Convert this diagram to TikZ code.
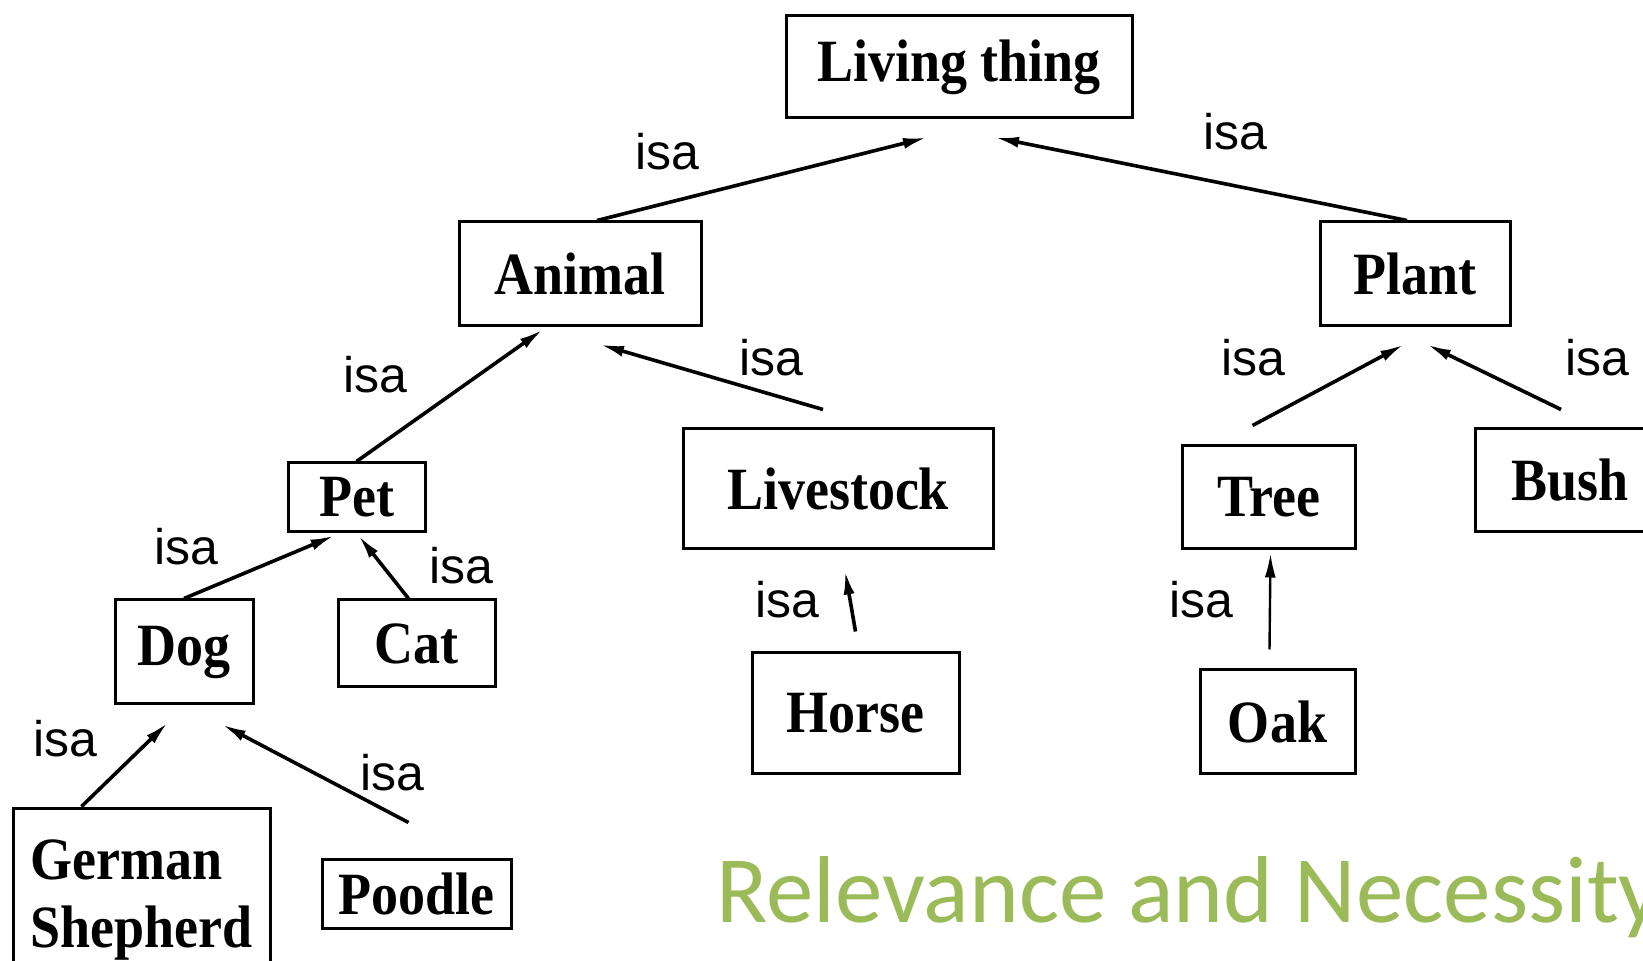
\documentclass[tikz,border=0pt]{standalone}
\usepackage{fontspec}
\usepackage{graphicx}
\setmainfont{Liberation Serif}
\newfontfamily\isafont{Liberation Sans}
\newfontfamily\titlefont{Carlito}
\usetikzlibrary{arrows.meta}
\definecolor{titlegreen}{HTML}{9BBB59}
\newcommand{\cls}[1]{\scalebox{0.9}[1]{#1}}
\tikzset{
  cbox/.style={draw, line width=1.5pt, inner sep=0pt, align=center,
    font=\bfseries\fontsize{30}{34}\selectfont},
  isa/.style={line width=1.8pt, -{Latex[length=12pt,width=5.5pt]}},
  isalbl/.style={font=\isafont\fontsize{25}{28}\selectfont, inner sep=0pt},
}
\begin{document}
\begin{tikzpicture}[x=0.5pt, y=-0.5pt]
\useasboundingbox (0,0) rectangle (1643,961);
\clip (0,0) rectangle (1643,961);
\fill[white] (0,0) rectangle (1643,961);

% concept boxes
\node[cbox, minimum width=173pt, minimum height=51pt] (living) at (959,67) {\cls{Living thing}};
\node[cbox, minimum width=121pt, minimum height=52pt] (animal) at (580,274) {\cls{Animal}};
\node[cbox, minimum width=95pt, minimum height=52pt] (plant) at (1415,274) {\cls{Plant}};
\node[cbox, minimum width=68.5pt, minimum height=34.5pt] (pet) at (356.5,497.5) {\cls{Pet}};
\node[cbox, minimum width=155pt, minimum height=60pt] (livestock) at (838,489) {\cls{Livestock}};
\node[cbox, minimum width=86.5pt, minimum height=51.5pt] (tree) at (1268.5,497.5) {\cls{Tree}};
\node[cbox, minimum width=95pt, minimum height=51.5pt] (bush) at (1570,480.5) {\cls{Bush}};
\node[cbox, minimum width=69pt, minimum height=52pt] (dog) at (184,652) {\cls{Dog}};
\node[cbox, minimum width=78.5pt, minimum height=43.5pt] (cat) at (416.5,643.5) {\cls{Cat}};
\node[cbox, minimum width=103.5pt, minimum height=60pt] (horse) at (855.5,713) {\cls{Horse}};
\node[cbox, minimum width=77.5pt, minimum height=51.5pt] (oak) at (1277.5,721.5) {\cls{Oak}};
\node[cbox, minimum width=128.5pt, minimum height=92pt] (gs) at (141.5,900) {\cls{\begin{tabular}{@{}l@{}}German\\Shepherd\end{tabular}}};
\node[cbox, minimum width=94.5pt, minimum height=34.5pt] (poodle) at (416.5,893.5) {\cls{Poodle}};

% isa links, child to parent
\draw[isa] ([xshift=8.5pt]animal.north) -- ([xshift=-16pt,yshift=-9pt]living.south);
\draw[isa] ([xshift=-4pt]plant.north) -- ([xshift=18pt,yshift=-9pt]living.south);
\draw[isa] (pet.north) -- ([xshift=-18.5pt,yshift=-1pt]animal.south);
\draw[isa] ([xshift=-7.5pt,yshift=9pt]livestock.north) -- ([xshift=10pt,yshift=-8.5pt]animal.south);
\draw[isa] ([xshift=-8pt,yshift=9.5pt]tree.north) -- ([xshift=-5.5pt,yshift=-8.5pt]plant.south);
\draw[isa] ([xshift=-4.5pt,yshift=9pt]bush.north) -- ([xshift=6pt,yshift=-8.5pt]plant.south);
\draw[isa] (dog.north) -- ([xshift=-11pt,yshift=-1pt]pet.south);
\draw[isa] ([xshift=-4pt]cat.north) -- ([xshift=1pt,yshift=-1pt]pet.south);
\draw[isa] ([yshift=10pt]horse.north) -- ([xshift=3.5pt,yshift=-10pt]livestock.south);
\draw[isa, line width=1.2pt] ([xshift=-4pt,yshift=9.5pt]oak.north) -- ([xshift=1pt,yshift=-1.5pt]tree.south);
\draw[isa] ([xshift=-30pt]gs.north) -- ([xshift=-8pt,yshift=-8.5pt]dog.south);
\draw[isa] ([xshift=-4pt,yshift=17.5pt]poodle.north) -- ([xshift=19pt,yshift=-9.5pt]dog.south);

% link labels
\node[isalbl] (l1) at (667,152) {isa};
\node[isalbl] (l2) at (1235,132) {isa};
\node[isalbl] (l3) at (375,375) {isa};
\node[isalbl] (l4) at (771,358) {isa};
\node[isalbl] (l5) at (1253,358) {isa};
\node[isalbl] (l6) at (1597,358) {isa};
\node[isalbl] (l7) at (186,547) {isa};
\node[isalbl] (l8) at (461,566) {isa};
\node[isalbl] (l9) at (787,600) {isa};
\node[isalbl] (l10) at (1201,600) {isa};
\node[isalbl] (l11) at (65,739) {isa};
\node[isalbl] (l12) at (392,773) {isa};

% heading
\node[anchor=base west, inner sep=0pt, text=titlegreen,
  font=\titlefont\fontsize{47.5}{50}\selectfont] (title) at (716,922) {Relevance and Necessity};
\end{tikzpicture}
\end{document}
